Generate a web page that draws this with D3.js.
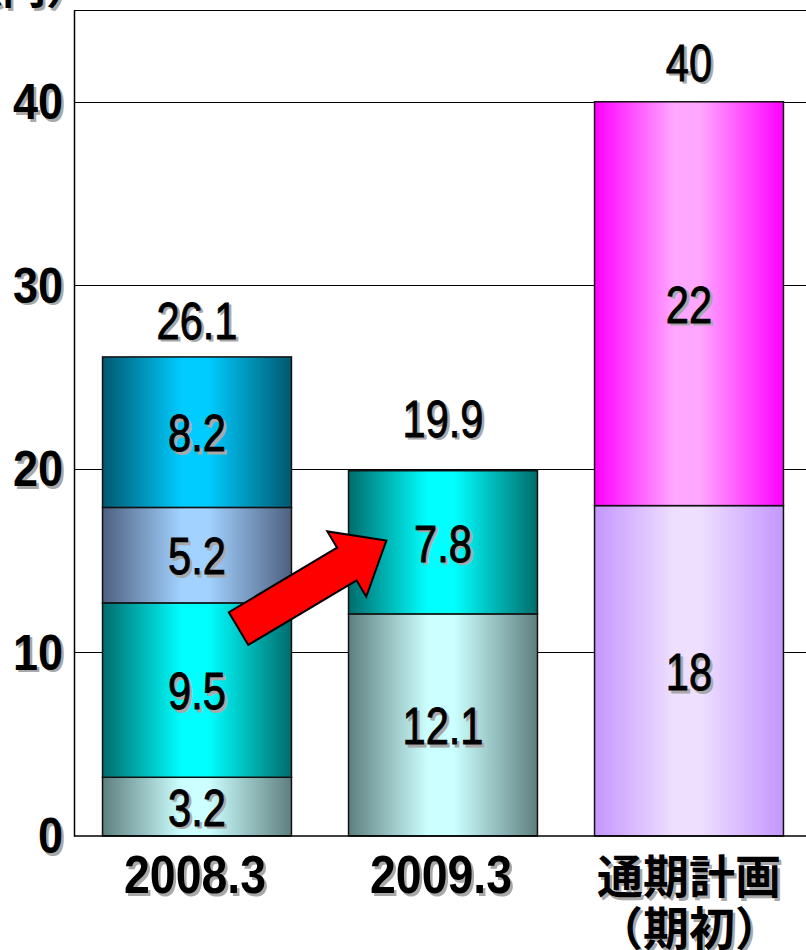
<!DOCTYPE html>
<html>
<head>
<meta charset="utf-8">
<script src="https://cdn.jsdelivr.net/npm/d3@7"></script>
<style>
  html, body { margin: 0; padding: 0; background: #fff; overflow: hidden; }
  svg { display: block; }
</style>
</head>
<body>
<div id="chart"></div>
<script>
// values
const categories = ["2008.3", "2009.3", "通期計画"];
const catSub = ["", "", "（期初）"];
const seg2008 = [3.2, 9.5, 5.2, 8.2];
const seg2009 = [12.1, 7.8];
const segPlan = [18, 22];
const totals = [26.1, 19.9, 40];
const yTicks = [0, 10, 20, 30, 40];

// gradient colours [edge, centre] per segment
const pal2008 = [["#5f7f7f", "#ccffff"], ["#006c6c", "#00ffff"], ["#4e6080", "#a2d2ff"], ["#005870", "#00ccff"]];
const pal2009 = [["#5f7f7f", "#ccffff"], ["#006c6c", "#00ffff"]];
const palPlan = [["#c496ff", "#eedfff"], ["#ff00ff", "#ffa6ff"]];
// gap between bar top and its total label (px)
const totalGap = [18, 34, 21];

const width = 806, height = 950;
const numFont = "'Liberation Sans', Arial, sans-serif";
const jpFont = "'Noto Sans CJK JP', sans-serif";

const svg = d3.select("#chart").append("svg")
    .attr("width", width)
    .attr("height", height);

const defs = svg.append("defs");

const x = d3.scaleBand()
    .domain(categories)
    .range([74, 812])
    .paddingInner(0.232)
    .paddingOuter(0.116);

const y = d3.scaleLinear()
    .domain([0, 45])
    .range([836, 10]);

// shadowed text helper, sx squeezes the glyphs sideways
function shadowText(sel, txt, px, py, size, opts) {
    opts = opts || {};
    const sx = opts.sx || 1;
    const g = sel.append("g")
        .attr("transform", `translate(${px},${py}) scale(${sx},1)`);
    [["#a8a8a8", 2.5], ["#000", 0]].forEach(([c, o]) => {
        g.append("text")
            .attr("x", o / sx)
            .attr("y", o)
            .attr("text-anchor", opts.anchor || "middle")
            .attr("dominant-baseline", opts.baseline || "auto")
            .style("font-family", opts.family || numFont)
            .style("font-size", size + "px")
            .style("font-weight", opts.weight || "normal")
            .attr("fill", c)
            .attr("stroke", opts.thick ? c : "none")
            .attr("stroke-width", opts.thick || 0)
            .text(txt);
    });
    return g;
}

// grid lines
svg.append("g")
    .selectAll("line")
    .data(yTicks.slice(1))
    .join("line")
    .attr("x1", 74)
    .attr("x2", width)
    .attr("y1", d => Math.round(y(d)) + 0.5)
    .attr("y2", d => Math.round(y(d)) + 0.5)
    .attr("stroke", "#000")
    .attr("stroke-width", 1.2);

// frame top
svg.append("line")
    .attr("x1", 74).attr("x2", width)
    .attr("y1", y(45) + 0.5).attr("y2", y(45) + 0.5)
    .attr("stroke", "#000").attr("stroke-width", 1.2);

// bars
const stacks = [seg2008, seg2009, segPlan];
const pals = [pal2008, pal2009, palPlan];
const fmt = d3.format(".1~f");

stacks.forEach((segs, ci) => {
    const cat = categories[ci];
    const ends = d3.cumsum(segs);
    const bx = x(cat), bw = x.bandwidth();
    const g = svg.append("g");
    segs.forEach((v, si) => {
        const id = `grad${ci}_${si}`;
        const [edge, mid] = pals[ci][si];
        const lg = defs.append("linearGradient")
            .attr("id", id)
            .attr("x1", "0%").attr("x2", "100%")
            .attr("y1", "0%").attr("y2", "0%");
        [[0, edge], [0.42, mid], [0.56, mid], [1, edge]].forEach(([o, c]) => {
            lg.append("stop").attr("offset", o).attr("stop-color", c);
        });
        const y0 = y(ends[si] - v), y1 = y(ends[si]);
        g.append("rect")
            .attr("x", bx)
            .attr("y", y1)
            .attr("width", bw)
            .attr("height", y0 - y1)
            .attr("fill", `url(#${id})`)
            .attr("stroke", "#111")
            .attr("stroke-width", 1.5);
    });
    segs.forEach((v, si) => {
        const yc = y(ends[si] - v / 2);
        shadowText(g, fmt(v), bx + bw / 2, yc + 1, 52, {baseline: "central", sx: 0.8, thick: 0.9});
    });
    // total on top
    shadowText(svg, fmt(totals[ci]), bx + bw / 2, y(totals[ci]) - totalGap[ci], 52, {sx: 0.8, thick: 0.9});
});

// left axis
const axis = svg.append("g")
    .attr("transform", "translate(74,0)")
    .call(d3.axisLeft(y).tickValues(yTicks).tickSize(0).tickPadding(10));
axis.select(".domain").attr("stroke", "#000").attr("stroke-width", 1.5);
axis.selectAll(".tick text").remove();
yTicks.forEach(t => {
    shadowText(axis, t, -11, y(t), 50, {anchor: "end", baseline: "central", weight: "bold", sx: 0.9});
});

// bottom line
svg.append("line")
    .attr("x1", 74).attr("x2", width)
    .attr("y1", y(0)).attr("y2", y(0))
    .attr("stroke", "#000").attr("stroke-width", 1.5);

// category labels
categories.forEach((c, i) => {
    const cx = x(c) + x.bandwidth() / 2;
    if (catSub[i]) {
        shadowText(svg, c, cx, 893, 46, {family: jpFont, weight: "bold"});
        shadowText(svg, catSub[i], cx, 945, 46, {family: jpFont, weight: "bold"});
    } else {
        shadowText(svg, c, cx - 2, 893, 54, {weight: "bold", sx: 0.86});
    }
});

// unit label, mostly cut off at the top
shadowText(svg, "（億円）", 90, 4, 44, {anchor: "end", family: jpFont, weight: "bold"});

// arrow from 2008.3 stack to 2009.3 stack
const arrowFrom = [categories[0], 0.72, 11.3];
const arrowTo = [categories[1], 0.2, 16.1];
const ax0 = x(arrowFrom[0]) + x.bandwidth() * arrowFrom[1], ay0 = y(arrowFrom[2]);
const ax1 = x(arrowTo[0]) + x.bandwidth() * arrowTo[1], ay1 = y(arrowTo[2]);
const len = Math.hypot(ax1 - ax0, ay1 - ay0);
const ang = Math.atan2(ay1 - ay0, ax1 - ax0) * 180 / Math.PI;
const sw = 19, hw = 38, hl = 46;
const arrowPts = [[0, -sw], [len - hl, -sw], [len - hl, -hw], [len, 0], [len - hl, hw], [len - hl, sw], [0, sw]];
svg.append("path")
    .attr("transform", `translate(${ax0},${ay0}) rotate(${ang})`)
    .attr("d", d3.line()(arrowPts) + "Z")
    .attr("fill", "#ff0000")
    .attr("stroke", "#000")
    .attr("stroke-width", 2)
    .attr("stroke-linejoin", "miter");
</script>
</body>
</html>
